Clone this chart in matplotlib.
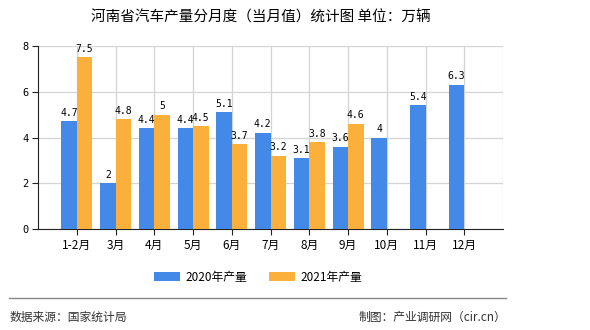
import numpy as np
import matplotlib
matplotlib.use('Agg')
from matplotlib import pyplot as plt
from matplotlib.patches import Patch
from matplotlib.lines import Line2D

plt.rcParams['font.family'] = ['Noto Sans CJK SC', 'DejaVu Sans']

months = ['1-2月', '3月', '4月', '5月', '6月', '7月', '8月', '9月', '10月', '11月', '12月']
output_2020 = [4.7, 2, 4.4, 4.4, 5.1, 4.2, 3.1, 3.6, 4, 5.4, 6.3]
output_2021 = [7.5, 4.8, 5, 4.5, 3.7, 3.2, 3.8, 4.6]
labels_2020 = ['4.7', '2', '4.4', '4.4', '5.1', '4.2', '3.1', '3.6', '4', '5.4', '6.3']
labels_2021 = ['7.5', '4.8', '5', '4.5', '3.7', '3.2', '3.8', '4.6']

blue = '#4289E8'
orange = '#FBB03B'

fig = plt.figure(figsize=(5.9, 3.3), dpi=100)
ax = fig.add_axes([38/590, 1-229/330, 465/590, 183/330])

w = 0.4
x1 = np.arange(len(output_2020))
x2 = np.arange(len(output_2021))
b1 = ax.bar(x1 - w/2, output_2020, width=w, color=blue, zorder=3)
b2 = ax.bar(x2 + w/2, output_2021, width=w, color=orange, zorder=3)

# value labels above each bar
for rect, lab in zip(b1, labels_2020):
    ax.text(rect.get_x() + rect.get_width()/2, rect.get_height() + 0.15, lab,
            ha='center', va='bottom', fontsize=7, family='DejaVu Sans Mono', zorder=4)
for rect, lab in zip(b2, labels_2021):
    ax.text(rect.get_x() + rect.get_width()/2, rect.get_height() + 0.15, lab,
            ha='center', va='bottom', fontsize=7, family='DejaVu Sans Mono', zorder=4)

ax.set_xlim(-1, len(months))
ax.set_ylim(0, 8)
ax.set_xticks(x1)
ax.set_xticklabels(months, fontsize=8.5)
ax.set_yticks([0, 2, 4, 6, 8])
ax.set_yticklabels(['0', '2', '4', '6', '8'], fontsize=7.5, family='DejaVu Sans Mono')
ax.grid(True, color='#d4d4d4', lw=0.9, zorder=0)
ax.axvline(len(months), color='#d4d4d4', lw=0.9)
for s in ['top', 'right']:
    ax.spines[s].set_visible(False)
ax.spines['left'].set_color('#222222')
ax.spines['bottom'].set_color('#222222')
ax.tick_params(axis='both', length=4, width=0.8, color='#222222', pad=3)

fig.text(261/590, 1-17/330, '河南省汽车产量分月度（当月值）统计图 单位：万辆',
         ha='center', va='center', fontsize=10.5)

handles = [Patch(facecolor=blue, label='2020年产量'), Patch(facecolor=orange, label='2021年产量')]
fig.legend(handles=handles, loc='center', bbox_to_anchor=(258/590, 1-277/330), ncol=2,
           frameon=False, fontsize=8.5, handlelength=2.2, handleheight=0.8,
           columnspacing=1.8, handletextpad=0.5)

fig.add_artist(Line2D([9/590, 506/590], [1-298/330, 1-298/330], color='#888888', lw=1))
fig.text(10/590, 1-317/330, '数据来源：国家统计局', ha='left', va='center', fontsize=8.5, color='#333333')
fig.text(506/590, 1-317/330, '制图：产业调研网（cir.cn）', ha='right', va='center', fontsize=8.5, color='#333333')

fig.savefig('out.png', dpi=100)
